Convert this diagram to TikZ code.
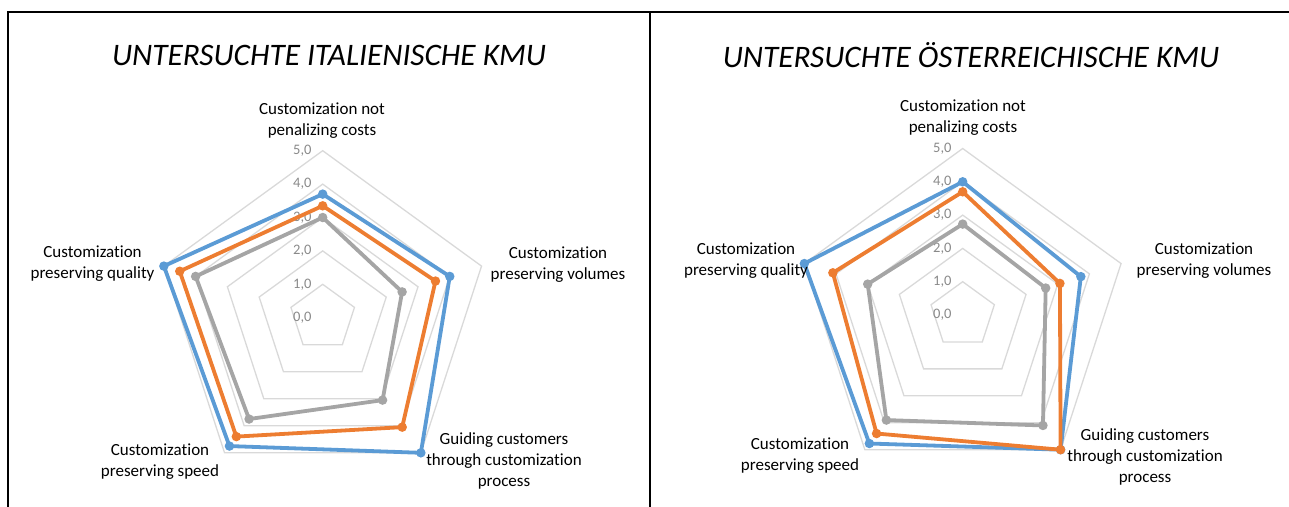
\documentclass[tikz,border=0pt]{standalone}
\usepackage{fontspec}
\setmainfont{Carlito}[Ligatures=NoCommon]
\definecolor{sblue}{RGB}{91,155,213}
\definecolor{sorange}{RGB}{237,125,49}
\definecolor{sgrey}{RGB}{165,165,165}
\definecolor{gridc}{RGB}{217,217,217}
\definecolor{tickc}{RGB}{137,137,137}
\tikzset{
  gridline/.style={draw=gridc, line width=1.3pt, line join=miter},
  series/.style={line width=3.8pt, line join=round, line cap=round},
  dot/.style={circle, fill=#1, inner sep=0pt, minimum size=9.5pt},
  catlabel/.style={align=center, font=\fontsize{17}{21}\selectfont, inner sep=0pt},
  ticklabel/.style={anchor=east, text=tickc, font=\fontsize{14.5}{16}\selectfont, inner sep=0pt},
  charttitle/.style={font=\fontsize{31.3}{36}\selectfont\itshape, inner sep=0pt},
  frameline/.style={line width=2.4pt, line cap=rect}
}
\newcommand\radargrid[1]{%
  \foreach \k in {1,...,5}{
    \draw[gridline] (90:{\k*#1}) -- (18:{\k*#1}) -- (-54:{\k*#1}) -- (-126:{\k*#1}) -- (162:{\k*#1}) -- cycle;
  }
  \foreach \k in {0,...,5}{
    \node[ticklabel] (tick\k) at ({-11}, {\k*#1}) {\k,0};
  }
}
\newcommand\radarseries[7]{% unit, color, v1..v5
  \coordinate (p1) at (90:{#3*#1});
  \coordinate (p2) at (18:{#4*#1});
  \coordinate (p3) at (-54:{#5*#1});
  \coordinate (p4) at (-126:{#6*#1});
  \coordinate (p5) at (162:{#7*#1});
  \draw[series, draw=#2] (p1) -- (p2) -- (p3) -- (p4) -- (p5) -- cycle;
  \foreach \p in {p1,p2,p3,p4,p5}{ \node[dot=#2] at (\p) {}; }
}
\begin{document}
\begin{tikzpicture}[x=1pt, y=-1pt]
\useasboundingbox (0,0) rectangle (1289,506);
% frame
\coordinate (fTL) at (8,12);
\coordinate (fTR) at (1289,12);
\coordinate (fBL) at (8,506);
\coordinate (dT) at (650,12);
\coordinate (dB) at (650,506);
\draw[frameline] (fTR) -- (fTL) -- (fBL);
\draw[frameline] (dT) -- (dB);

% titles
\node[charttitle] (titleL) at (329,55) {UNTERSUCHTE ITALIENISCHE KMU};
\node[charttitle] (titleR) at (971,55) {UNTERSUCHTE ÖSTERREICHISCHE KMU};

% left chart
\begin{scope}[shift={(322.7,317.7)}, y=1pt]
  \radargrid{33.4}
  \radarseries{33.4}{sblue}{3.7}{4.0}{5.0}{4.75}{5.0}
  \radarseries{33.4}{sorange}{3.35}{3.55}{4.05}{4.4}{4.5}
  \radarseries{33.4}{sgrey}{3.0}{2.5}{3.05}{3.75}{4.0}
\end{scope}
\node[catlabel] (lc1) at (322,120.5) {Customization not\\penalizing costs};
\node[catlabel] (lc2) at (558,264.5) {Customization\\preserving volumes};
\node[catlabel] (lc3) at (504,461) {Guiding customers\\through customization\\process};
\node[catlabel] (lc4) at (160,461.5) {Customization\\preserving speed};
\node[catlabel] (lc5) at (92.5,264) {Customization\\preserving quality};

% right chart
\begin{scope}[shift={(962.7,315)}, y=1pt]
  \radargrid{33.3}
  \radarseries{33.3}{sblue}{4.0}{3.73}{5.0}{4.77}{5.0}
  \radarseries{33.3}{sorange}{3.7}{3.07}{5.0}{4.4}{4.1}
  \radarseries{33.3}{sgrey}{2.73}{2.62}{4.1}{3.9}{3.0}
\end{scope}
\node[catlabel] (rc1) at (963,118) {Customization not\\penalizing costs};
\node[catlabel] (rc2) at (1204,261) {Customization\\preserving volumes};
\node[catlabel] (rc3) at (1145,456.5) {Guiding customers\\through customization\\process};
\node[catlabel] (rc4) at (800,456) {Customization\\preserving speed};
\node[catlabel] (rc5) at (746,260.5) {Customization\\preserving quality};
\end{tikzpicture}
\end{document}
